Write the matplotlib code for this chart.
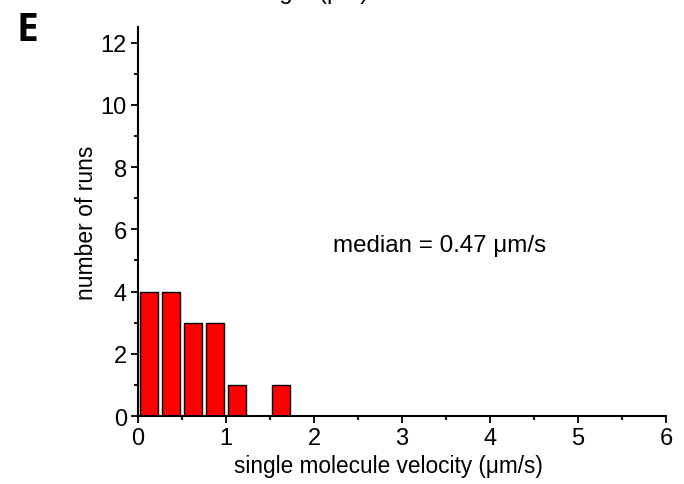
import matplotlib.pyplot as plt
import numpy as np

plt.rcParams['font.family'] = ['Liberation Sans', 'DejaVu Sans']

# histogram of single molecule velocities (bin width 0.25 um/s)
bin_centers = [0.125, 0.375, 0.625, 0.875, 1.125, 1.375, 1.625]
counts = [4, 4, 3, 3, 1, 0, 1]
x_ticks = [0, 1, 2, 3, 4, 5, 6]
y_ticks = [0, 2, 4, 6, 8, 10, 12]

fig = plt.figure(figsize=(6.84, 4.85), dpi=100)
ax = fig.add_axes([0.2018, 0.1402, 0.7719, 0.8021])

ax.bar(bin_centers, counts, width=0.2, color='#ff0000', edgecolor='black', linewidth=1.0)

ax.set_xlim(0, 6)
ax.set_ylim(0, 12.5)
ax.set_xticks(x_ticks)
ax.set_yticks(y_ticks)
ax.set_xticks(np.arange(0.5, 6, 1), minor=True)
ax.set_yticks(np.arange(1, 12, 2), minor=True)
ax.tick_params(which='major', direction='out', length=5, width=1.3, labelsize=17, colors='black', pad=3)
ax.tick_params(which='minor', direction='out', length=3, width=1.3)

for side in ['top', 'right']:
    ax.spines[side].set_visible(False)
for side in ['left', 'bottom']:
    ax.spines[side].set_linewidth(1.5)

ax.set_xlabel('single molecule velocity (μm/s)', fontsize=16.3)
ax.xaxis.set_label_coords(0.474, -0.128, transform=ax.transAxes)
ax.xaxis.label.set_va('center')
ax.set_ylabel('number of runs', fontsize=16.5, labelpad=2)

ax.text(2.22, 5.5, 'median = 0.47 μm/s', fontsize=17.4, ha='left', va='center')

# leftover label of the panel above, clipped at the top edge
fig.text(0.538, 1 + 1 / 485, 'run length (μm)', fontsize=17, ha='right', va='baseline')
fig.text(0.024, 0.937, 'E', fontsize=28, fontweight='bold', family='Open Sans', ha='left', va='center')

fig.savefig('out.png', dpi=100)
